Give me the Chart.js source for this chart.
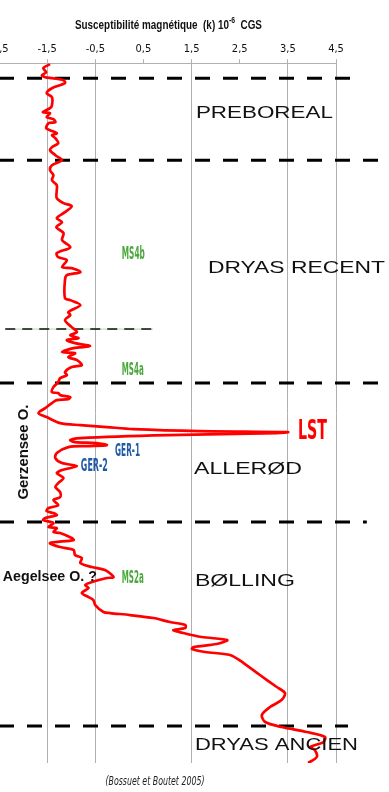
<!DOCTYPE html>
<html lang="fr">
<head>
<meta charset="UTF-8">
<title>Susceptibilité magnétique</title>
<script src="https://cdn.jsdelivr.net/npm/chart.js"></script>
<style>
    html, body { margin: 0; padding: 0; background: #fff; overflow: hidden; }
    /* the canvas starts a bit left of the window so the first tick label is cut */
    #chart-container {
        position: absolute;
        left: -40px;
        top: 0;
        width: 429px;
        height: 792px;
    }
</style>
</head>
<body>
<div id="chart-container">
    <canvas id="profil"></canvas>
</div>

<script>
    // profondeur (depth, top = 0) and susceptibility k (10-6 CGS)
    const profondeur = [
        1, 5, 9, 12, 14, 15, 17, 20, 25, 30, 34, 42, 45, 49, 50, 54, 56, 59, 60, 65, 67, 70, 72, 75, 80, 84, 87, 92, 97, 102, 107, 112, 117, 122,
        127, 135, 140, 143, 149, 155, 159, 164, 170, 177, 184, 190, 194, 197, 204, 205, 209, 212, 217, 235, 237, 242, 249,
        252, 257, 264, 269, 272, 274, 275, 277, 280, 283, 285, 289, 290, 294, 297, 302, 304, 309, 312, 315, 319, 324, 329, 330, 332, 334, 336, 337, 340, 345, 350, 354, 360, 362, 364,
        366, 368, 369, 370, 372, 375, 377, 379, 380, 382, 383, 384,
        390, 395, 400, 403, 407, 410, 415, 420, 424, 429, 434, 437, 442, 445, 448, 450, 452, 455, 457, 460, 464, 465, 469, 470, 475, 477,
        480, 484, 487, 492, 495, 500, 504, 507, 514, 515, 519, 522, 525, 530, 534, 537, 542, 549, 550,
        552, 555, 559, 562, 565, 567, 570, 574, 577, 581, 584, 586, 589, 592, 600, 612, 624, 630, 637, 644, 652, 659, 664, 669, 674, 679, 684, 687, 694, 700
    ];
    const susceptibilite = [
        -1.44, -1.58, -1.52, -1.61, -1.54, -1.40, -1.16, -1.13, -1.40, -1.51, -1.40, -1.40, -1.44, -1.59, -1.44, -1.51, -1.37, -1.33, -1.47, -1.52, -1.44, -1.30, -1.40, -1.33, -1.27, -1.40, -1.44, -1.33, -1.19, -1.40, -1.44, -1.37, -1.40, -1.30,
        -1.30, -1.30, -1.16, -0.99, -1.13, -1.30, -1.19, -1.31, -1.16, -1.19, -1.02, -1.30, -1.27, -1.09, -1.19, -0.99, -0.81, -1.09, -1.13, -1.13, -1.02, -0.81, -1.06,
        -1.02, -1.13, -0.99, -0.88, -1.02, -0.92, -0.85, -1.09, -0.92, -0.61, -0.95, -1.19, -0.92, -1.06, -0.88, -0.78, -0.99, -1.13, -1.09, -1.23, -1.27, -1.37, -1.40, -1.27, -1.23, -1.02, -1.06, -1.30, -1.40, -1.54, -1.68, -1.51, -1.23, -0.81, -0.26,
        0.29, 1.68, 3.50, 3.27, 0.99, -0.81, -1.02, -0.92, -0.47, -0.26, -0.68, -1.06,
        -1.30, -1.33, -1.19, -0.88, -1.19, -1.30, -1.16, -1.27, -1.33, -1.23, -1.23, -1.37, -1.27, -1.47, -1.51, -1.37, -1.30, -1.54, -1.58, -1.37, -1.47, -1.30, -1.37, -1.23, -0.99, -0.95,
        -1.44, -1.23, -0.95, -0.92, -0.78, -0.81, -0.57, -0.30, -0.12, -0.26, -0.57, -0.71, -0.64, -0.78, -0.64, -0.54, -0.50, -0.33, -0.19,
        0.22, 0.71, 1.05, 1.37, 1.37, 1.12, 1.33, 1.71, 2.24, 2.02, 1.54, 1.51, 1.78, 2.30, 2.58, 2.92, 3.27, 3.44, 3.37, 3.13, 2.96, 3.03, 3.37, 3.89, 4.27, 4.24, 3.96, 4.06, 4.10, 3.92
    ];

    const graduations = [-2.5, -1.5, -0.5, 0.5, 1.5, 2.5, 3.5, 4.5];
    const sansGrille = [0.5, 2.5];   // only a tick mark, no full line

    // chronozone boundaries (depth) and the MS4a/MS4b sub-limit
    const limites = [15, 97, 320, 459, 663];
    const finLimites = [4.96, 5.58, 5.58, 5.14, 4.75];
    const limiteMS4 = 266;

    const NARROW = '"Liberation Sans Narrow", "DejaVu Sans Condensed", "Liberation Sans", sans-serif';
    const SANS = '"Liberation Sans", Arial, sans-serif';

    // text labels: x in k units, d in depth units, w = drawn width in px
    const textes = [
        { t: 'PREBOREAL',    x: 1.59,  d: 50,  w: 137, font: '17px ' + SANS, c: '#111' },
        { t: 'DRYAS RECENT', x: 1.84,  d: 205, w: 177, font: '17px ' + SANS, c: '#111' },
        { t: 'ALLERØD',      x: 1.55,  d: 406, w: 108, font: '17px ' + SANS, c: '#111' },
        { t: 'BØLLING',      x: 1.57,  d: 518, w: 100, font: '17px ' + SANS, c: '#111' },
        { t: 'DRYAS ANCIEN', x: 1.57,  d: 682, w: 163, font: '17px ' + SANS, c: '#111' },
        { t: 'MS4b',         x: 0.05,  d: 191, w: 23,  font: 'bold 18px ' + NARROW, c: '#4aa83c' },
        { t: 'MS4a',         x: 0.05,  d: 307, w: 22,  font: 'bold 18px ' + NARROW, c: '#4aa83c' },
        { t: 'MS2a',         x: 0.05,  d: 515, w: 22,  font: 'bold 18px ' + NARROW, c: '#4aa83c' },
        { t: 'GER-1',        x: -0.09, d: 388, w: 25,  font: 'bold 18px ' + NARROW, c: '#1f5aa6' },
        { t: 'GER-2',        x: -0.80, d: 403, w: 27,  font: 'bold 18px ' + NARROW, c: '#1f5aa6' },
        { t: 'LST',          x: 3.71,  d: 369, w: 29,  font: 'bold 26px ' + NARROW, c: '#ff0000' },
        { t: 'Aegelsee O. ?', x: -2.42, d: 514, w: 94, font: 'bold 14px ' + SANS, c: '#111' },
        { t: 'Gerzensee O.', x: -1.98, d: 389, w: 95,  font: 'bold 15px ' + SANS, c: '#111', rot: true },
        { t: '(Bossuet et Boutet 2005)', x: 0.74, d: 719, w: 99, font: 'italic 13px ' + NARROW, c: '#222', center: true }
    ];

    const courbe = profondeur.map((d, i) => ({ x: susceptibilite[i], y: d }));

    const limiteSets = limites.map((d, i) => ({
        data: [{ x: -2.5, y: d }, { x: finLimites[i], y: d }],
        borderColor: '#000',
        borderWidth: 3,
        borderDash: [15, 13],
        pointRadius: 0,
        clip: false,
        order: 2
    }));

    // the thin MS4 limit: pale green line under black dashes
    const ms4Sets = [
        { data: [{ x: -2.37, y: limiteMS4 }, { x: 0.70, y: limiteMS4 }], borderColor: '#b5dcae', borderWidth: 1, pointRadius: 0, order: 3 },
        { data: [{ x: -2.37, y: limiteMS4 }, { x: 0.70, y: limiteMS4 }], borderColor: '#111', borderWidth: 1.5, borderDash: [10, 7], pointRadius: 0, order: 2 }
    ];

    const textPlugin = {
        id: 'textes',
        afterDatasetsDraw(chart) {
            const c = chart.ctx, xs = chart.scales.x, ys = chart.scales.y;
            textes.forEach(a => {
                c.save();
                c.font = a.font;
                c.fillStyle = a.c;
                c.textBaseline = 'middle';
                const sx = a.w / c.measureText(a.t).width;
                const px = xs.getPixelForValue(a.x), py = ys.getPixelForValue(a.d);
                c.translate(px, py);
                if (a.rot) c.rotate(-Math.PI / 2);
                c.scale(sx, 1);
                c.textAlign = (a.rot || a.center) ? 'center' : 'left';
                c.fillText(a.t, 0, 0);
                c.restore();
            });

            // axis title with its 10^-6 exponent
            const parts = [
                { s: 'Susceptibilité magnétique  (k) 10', f: 'bold 13px ' + SANS, dy: 0 },
                { s: '-6', f: 'bold 9px ' + SANS, dy: -4 },
                { s: '  CGS', f: 'bold 13px ' + SANS, dy: 0 }
            ];
            c.save();
            c.fillStyle = '#111';
            c.textBaseline = 'middle';
            c.textAlign = 'left';
            let total = 0;
            parts.forEach(p => { c.font = p.f; p.w = c.measureText(p.s).width; total += p.w; });
            const sx = 187 / total;
            c.translate(xs.getPixelForValue(1.02) - 187 / 2, 25);
            c.scale(sx, 1);
            let cx = 0;
            parts.forEach(p => { c.font = p.f; c.fillText(p.s, cx, p.dy); cx += p.w; });
            c.restore();
        }
    };

    const ctx = document.getElementById('profil').getContext('2d');
    new Chart(ctx, {
        type: 'line',
        data: {
            datasets: [
                {
                    data: courbe,
                    borderColor: '#ff0000',
                    borderWidth: 2.7,
                    pointRadius: 0,
                    tension: 0.3,
                    fill: false,
                    order: 0
                },
                ...limiteSets,
                ...ms4Sets
            ]
        },
        options: {
            responsive: true,
            maintainAspectRatio: false,
            animation: false,
            layout: { padding: { left: 39, right: 53, top: 40, bottom: 29 } },
            plugins: { legend: { display: false }, tooltip: { enabled: false } },
            scales: {
                x: {
                    type: 'linear',
                    position: 'top',
                    min: -2.5,
                    max: 4.5,
                    afterBuildTicks: axis => { axis.ticks = graduations.map(v => ({ value: v })); },
                    ticks: {
                        padding: 3,
                        color: '#111',
                        font: { family: NARROW, size: 11 },
                        callback: v => v.toFixed(1).replace('.', ',')
                    },
                    grid: {
                        color: c => sansGrille.includes(c.tick && c.tick.value) ? 'rgba(0,0,0,0)' : '#b0b0b0',
                        tickColor: '#b0b0b0',
                        tickLength: 4
                    },
                    border: { color: '#b0b0b0' }
                },
                y: {
                    type: 'linear',
                    display: false,
                    reverse: true,
                    min: 0,
                    max: 700
                }
            }
        },
        plugins: [textPlugin]
    });
</script>
</body>
</html>
